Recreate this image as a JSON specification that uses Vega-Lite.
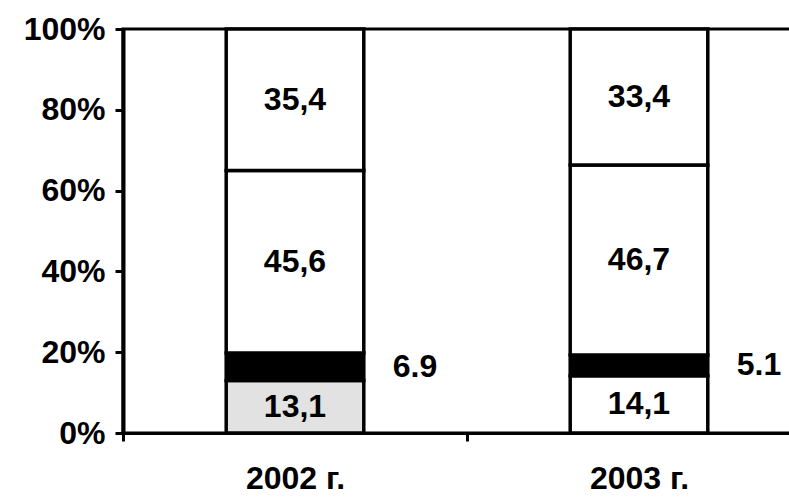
{
  "$schema": "https://vega.github.io/schema/vega-lite/v6.json",
  "width": 688,
  "height": 404,
  "autosize": "none",
  "padding": {"left": 123, "top": 29, "right": 0, "bottom": 65},
  "background": "white",
  "view": {"stroke": "black", "strokeWidth": 3},
  "data": {
    "values": [
      {"year": "2002 г.", "part": 1, "value": 13.1},
      {"year": "2002 г.", "part": 2, "value": 6.9},
      {"year": "2002 г.", "part": 3, "value": 45.6},
      {"year": "2002 г.", "part": 4, "value": 35.4},
      {"year": "2003 г.", "part": 1, "value": 14.1},
      {"year": "2003 г.", "part": 2, "value": 5.1},
      {"year": "2003 г.", "part": 3, "value": 46.7},
      {"year": "2003 г.", "part": 4, "value": 33.4}
    ]
  },
  "transform": [
    {"stack": "value", "groupby": ["year"], "sort": [{"field": "part", "order": "ascending"}], "offset": "normalize", "as": ["y0", "y1"]},
    {"calculate": "(datum.y0 + datum.y1) / 2", "as": "mid"},
    {"calculate": "replace(format(datum.value, '.1f'), '.', ',')", "as": "label"}
  ],
  "encoding": {
    "x": {
      "field": "year",
      "type": "nominal",
      "sort": null,
      "scale": {"paddingInner": 0.6, "paddingOuter": 0.3},
      "axis": {
        "title": null,
        "labelAngle": 0,
        "labelFont": "Liberation Sans",
        "labelFontSize": 32,
        "labelFontWeight": "bold",
        "labelColor": "black",
        "labelPadding": 22,
        "labelOffset": 172,
        "domainColor": "black",
        "domainWidth": 3,
        "tickColor": "black",
        "tickWidth": 3,
        "tickSize": 8,
        "tickOffset": -172
      }
    }
  },
  "layer": [
    {
      "mark": {"type": "bar", "stroke": "black", "strokeWidth": 3.5},
      "encoding": {
        "y": {
          "field": "y0",
          "type": "quantitative",
          "scale": {"domain": [0, 1], "nice": false},
          "axis": {
            "title": null,
            "format": "%",
            "values": [0, 0.2, 0.4, 0.6, 0.8, 1],
            "grid": false,
            "labelFont": "Liberation Sans",
            "labelFontSize": 32,
            "labelFontWeight": "bold",
            "labelColor": "black",
            "labelPadding": 10,
            "domainColor": "black",
            "domainWidth": 4,
            "tickColor": "black",
            "tickWidth": 3,
            "tickSize": 8
          }
        },
        "y2": {"field": "y1"},
        "fill": {
          "condition": [
            {"test": "datum.part == 2", "value": "black"},
            {"test": "datum.part == 1 && datum.year == '2002 г.'", "value": "#e2e2e2"}
          ],
          "value": "white"
        }
      }
    },
    {
      "transform": [{"filter": "datum.part != 2"}],
      "mark": {"type": "text", "font": "Liberation Sans", "fontSize": 32, "fontWeight": "bold", "color": "black", "baseline": "middle", "align": "center"},
      "encoding": {
        "y": {"field": "mid", "type": "quantitative"},
        "text": {"field": "label"}
      }
    },
    {
      "transform": [{"filter": "datum.part == 2"}],
      "mark": {"type": "text", "font": "Liberation Sans", "fontSize": 32, "fontWeight": "bold", "color": "black", "baseline": "middle", "align": "center", "dx": 120},
      "encoding": {
        "y": {"field": "mid", "type": "quantitative"},
        "text": {"field": "value", "format": ".1f"}
      }
    }
  ]
}
